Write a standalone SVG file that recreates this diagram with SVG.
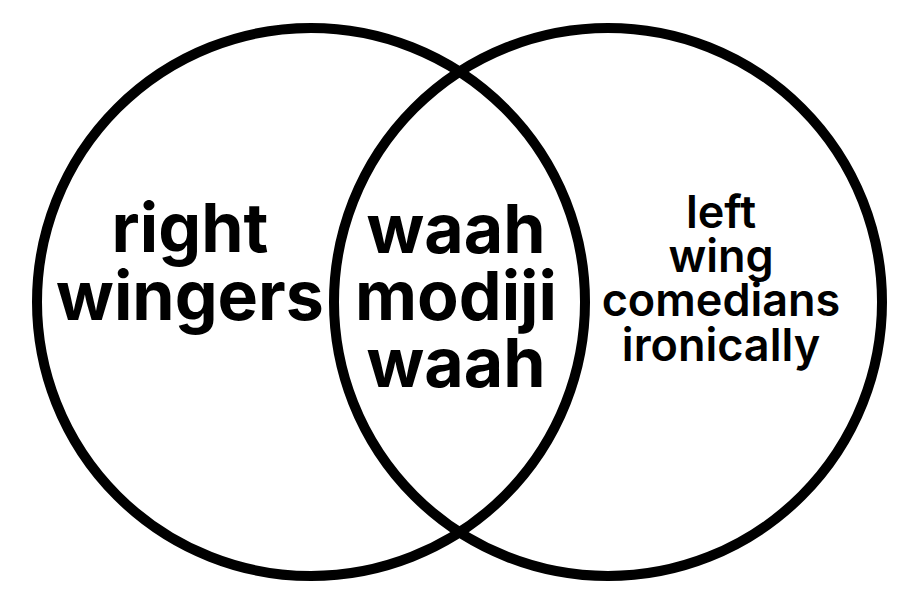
<svg xmlns="http://www.w3.org/2000/svg" width="920" height="602" viewBox="0 0 920 602">
<style>
.ring{fill:none;stroke:#000;stroke-width:10}
.big{font-family:Inter,"Liberation Sans",sans-serif;font-weight:700;font-size:68px;fill:#000;text-anchor:middle}
.small{font-family:Inter,"Liberation Sans",sans-serif;font-weight:600;font-size:45px;fill:#000;text-anchor:middle}
</style>
<rect width="920" height="602" fill="#fff"/>
<g id="left-circle">
<circle class="ring" cx="311" cy="302" r="274"/>
<text class="big" x="190" y="252">right</text>
<text class="big" x="190" y="320">wingers</text>
</g>
<g id="right-circle">
<circle class="ring" cx="608" cy="302" r="274"/>
<text class="small" x="721" y="228">left</text>
<text class="small" x="721" y="272">wing</text>
<text class="small" x="721" y="316">comedians</text>
<text class="small" x="721" y="361">ironically</text>
</g>
<g id="overlap">
<text class="big" x="456" y="253">waah</text>
<text class="big" x="456" y="320">modiji</text>
<text class="big" x="456" y="387">waah</text>
</g>
<g id="connectors"></g>
</svg>
